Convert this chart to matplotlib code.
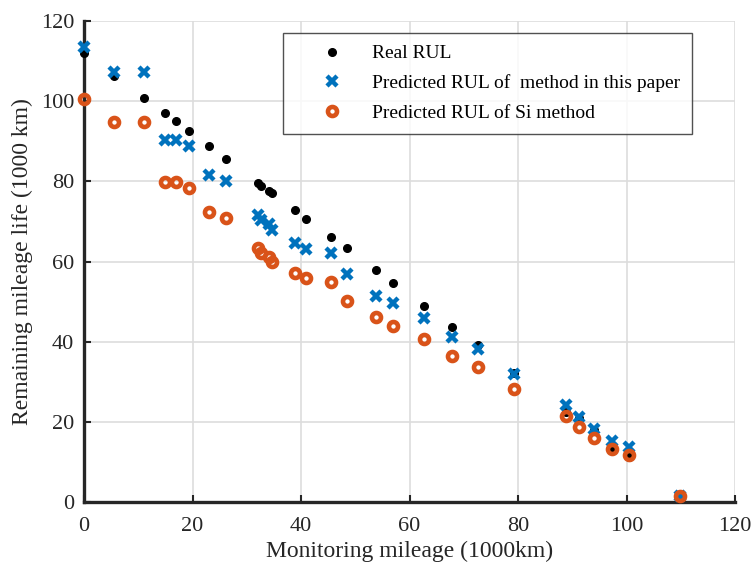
import matplotlib
matplotlib.use("Agg")
from matplotlib import pyplot as plt

# monitoring mileage (1000 km), shared by the three series
mileage = [0, 5.5, 11.0, 15.0, 16.9, 19.3, 23.1, 26.2, 32.1, 32.7, 34.1, 34.7,
           38.8, 41.0, 45.6, 48.4, 53.9, 57.0, 62.6, 67.9, 72.7, 79.3,
           88.9, 91.3, 94.0, 97.3, 100.4, 109.9]

real_rul = [111.9, 106.3, 100.7, 97.0, 95.1, 92.6, 88.8, 85.6, 79.6, 78.9, 77.7, 77.0,
            72.9, 70.7, 66.0, 63.3, 57.9, 54.6, 49.0, 43.7, 39.2, 32.3,
            22.5, 21.0, 18.0, 13.2, 11.2, 1.5]

pred_paper = [113.6, 107.4, 107.4, 90.2, 90.2, 88.7, 81.6, 80.1, 71.6, 70.4, 69.3, 67.9,
              64.5, 63.0, 62.2, 56.8, 51.4, 49.7, 45.8, 41.2, 38.1, 31.9,
              24.1, 21.1, 18.1, 15.2, 13.6, 1.5]

pred_si = [100.5, 94.9, 94.9, 79.8, 79.8, 78.4, 72.3, 70.9, 63.3, 62.1, 61.2, 60.0,
           57.2, 55.8, 55.0, 50.2, 46.1, 44.0, 40.6, 36.4, 33.8, 28.2,
           21.5, 18.6, 15.9, 13.1, 11.7, 1.5]

ticks = [0, 20, 40, 60, 80, 100, 120]

plt.rcParams['font.family'] = ['Liberation Serif', 'DejaVu Serif']

fig = plt.figure(figsize=(7.53, 5.68), dpi=100)
ax = fig.add_axes([0.1116, 0.1162, 0.8645, 0.8468])

ax.plot(mileage, real_rul, linestyle='none', marker='o', color='black',
        markersize=5.5, label='Real RUL', clip_on=False, zorder=3)
ax.plot(mileage, pred_paper, linestyle='none', marker='x', color='#0072BD',
        markersize=7, markeredgewidth=3.2, label='Predicted RUL of  method in this paper',
        clip_on=False, zorder=4)
ax.plot(mileage, pred_si, linestyle='none', marker='o', color='#D95319',
        markerfacecolor='none', markersize=6.5, markeredgewidth=3.3,
        label='Predicted RUL of Si method', clip_on=False, zorder=5)

ax.set_xlim(0, 120)
ax.set_ylim(0, 120)
ax.set_xticks(ticks)
ax.set_yticks(ticks)
ax.grid(True, color='#dddddd', linewidth=1.2)
ax.set_axisbelow(True)

for s in ['top', 'right']:
    ax.spines[s].set_visible(False)
for s in ['left', 'bottom']:
    ax.spines[s].set_linewidth(2.4)
    ax.spines[s].set_color('#262626')

ax.tick_params(direction='in', length=5, width=1.5, labelsize=16, colors='#262626')
ax.tick_params(axis='x', pad=11)
ax.tick_params(axis='y', pad=7)

ax.set_xlabel('Monitoring mileage (1000km)', fontsize=17, color='#262626', labelpad=3)
ax.set_ylabel('Remaining mileage life (1000 km)', fontsize=17, color='#262626', labelpad=6)

leg = ax.legend(loc='upper left', bbox_to_anchor=(0.305, 0.975), fontsize=14,
                frameon=True, fancybox=False, edgecolor='#262626',
                handletextpad=0.1, borderpad=0.6, labelspacing=0.62,
                handlelength=3.9, borderaxespad=0)
leg.get_frame().set_linewidth(1.0)

fig.savefig('out.png', dpi=100)
